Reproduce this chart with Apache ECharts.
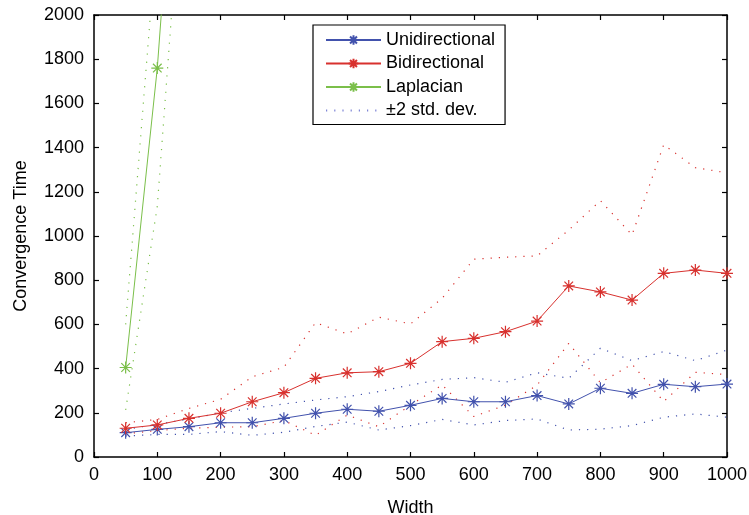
<!DOCTYPE html>
<html>
<head>
<meta charset="utf-8">
<script src="https://cdn.jsdelivr.net/npm/echarts@6/dist/echarts.min.js"></script>
<style>html,body{margin:0;padding:0;background:#fff}#c{width:749px;height:515px}</style>
</head>
<body>
<div id="c"></div>
<script>
// ---- data ----
const widths = [50,100,150,200,250,300,350,400,450,500,550,600,650,700,750,800,850,900,950,1000];
const uniMean  = [110,125,137,155,155,175,198,216,207,234,265,250,250,278,240,311,288,329,318,330];
const uniUpper = [125,148,172,200,220,240,258,273,296,326,351,359,338,381,356,492,436,477,436,484];
const uniLower = [95,102,102,115,98,112,138,158,122,142,170,145,165,172,122,126,142,180,195,180];
const biMean   = [130,145,175,198,250,291,356,381,386,424,522,537,567,615,774,747,710,831,846,831];
const biUpper  = [155,170,220,261,363,406,608,557,633,602,718,895,904,910,1027,1160,1005,1413,1309,1286];
const biLower  = [105,120,130,135,137,165,98,190,137,235,326,183,235,325,514,336,420,251,383,373];
const lapX     = [50,100,150];
const lapMean  = [405,1760,3700];
const lapUpper = [600,2390,5000];
const lapLower = [213,1135,3060];
const xTicks = [0,1000,100];
const yTicks = [0,2000,200];

const BLUE = '#4252ad', RED = '#d8312e', GREEN = '#7bbf4a';
const FONT = "'Liberation Sans',Arial,sans-serif";
const STAR = 'path://M0,-1L0,1M-1,0L1,0M-0.72,-0.72L0.72,0.72M-0.72,0.72L0.72,-0.72';

function pairs(xs, ys){ return xs.map((x,i)=>[x, ys[i]]); }
function meanSeries(name, xs, ys, c){
  return {name, type:'line', data:pairs(xs,ys), symbol:STAR, symbolSize:12, symbolKeepAspect:true,
    itemStyle:{color:'rgba(0,0,0,0)', borderColor:c, borderWidth:1.2},
    lineStyle:{color:c, width:1}, z:5, silent:true, emphasis:{disabled:true}};
}
function bandSeries(name, xs, ys, c){
  return {name, type:'line', data:pairs(xs,ys), symbol:'none',
    lineStyle:{color:c, width:1.2, type:[1.2,7]}, z:3, silent:true, emphasis:{disabled:true}};
}

const axisCommon = {
  axisLine:{show:true, onZero:false, lineStyle:{color:'#000', width:1.5}},
  axisTick:{show:true, inside:true, length:5, lineStyle:{color:'#000', width:1.2}},
  splitLine:{show:false}
};
const fmt = v => String(v);

const chart = echarts.init(document.getElementById('c'), null, {renderer:'canvas'});
chart.setOption({
  animation:false,
  backgroundColor:'#fff',
  grid:{left:94, right:22, top:15, bottom:58, show:false, outerBoundsMode:'none', containLabel:false},
  xAxis:[
    Object.assign({type:'value', min:xTicks[0], max:xTicks[1], interval:xTicks[2], position:'bottom',
      name:'Width', nameLocation:'middle', nameGap:42,
      nameTextStyle:{fontFamily:FONT, fontSize:18, color:'#000'},
      axisLabel:{fontFamily:FONT, fontSize:18, color:'#000', margin:9, formatter:fmt}}, axisCommon),
    Object.assign({type:'value', min:xTicks[0], max:xTicks[1], interval:xTicks[2], position:'top',
      axisLabel:{show:false}}, axisCommon)
  ],
  yAxis:[
    Object.assign({type:'value', min:yTicks[0], max:yTicks[1], interval:yTicks[2], position:'left',
      name:'Convergence Time', nameLocation:'middle', nameGap:64,
      nameTextStyle:{fontFamily:FONT, fontSize:18, color:'#000'},
      axisLabel:{fontFamily:FONT, fontSize:18, color:'#000', margin:10, formatter:fmt}}, axisCommon),
    Object.assign({type:'value', min:yTicks[0], max:yTicks[1], interval:yTicks[2], position:'right',
      axisLabel:{show:false}}, axisCommon)
  ],
  legend:{
    data:['Unidirectional','Bidirectional','Laplacian','±2 std. dev.'],
    left:313, top:25, orient:'vertical',
    itemWidth:55, itemHeight:12, itemGap:5.5,
    padding:[6,10,5,12],
    backgroundColor:'#fff', borderColor:'#000', borderWidth:1.2, borderRadius:0,
    textStyle:{fontFamily:FONT, fontSize:18, color:'#000'},
    selectedMode:false
  },
  series:[
    bandSeries('uu', widths, uniUpper, BLUE),
    bandSeries('ul', widths, uniLower, BLUE),
    bandSeries('bu', widths, biUpper, RED),
    bandSeries('bl', widths, biLower, RED),
    bandSeries('lu', lapX, lapUpper, GREEN),
    bandSeries('ll', lapX, lapLower, GREEN),
    meanSeries('Unidirectional', widths, uniMean, BLUE),
    meanSeries('Bidirectional', widths, biMean, RED),
    meanSeries('Laplacian', lapX, lapMean, GREEN),
    {name:'±2 std. dev.', type:'line', data:[], symbol:'none',
     itemStyle:{color:'rgba(0,0,0,0)', borderColor:'rgba(0,0,0,0)'},
     lineStyle:{color:'#7f86d6', width:1.2, type:[1.2,7]}}
  ]
});
</script>
</body>
</html>
